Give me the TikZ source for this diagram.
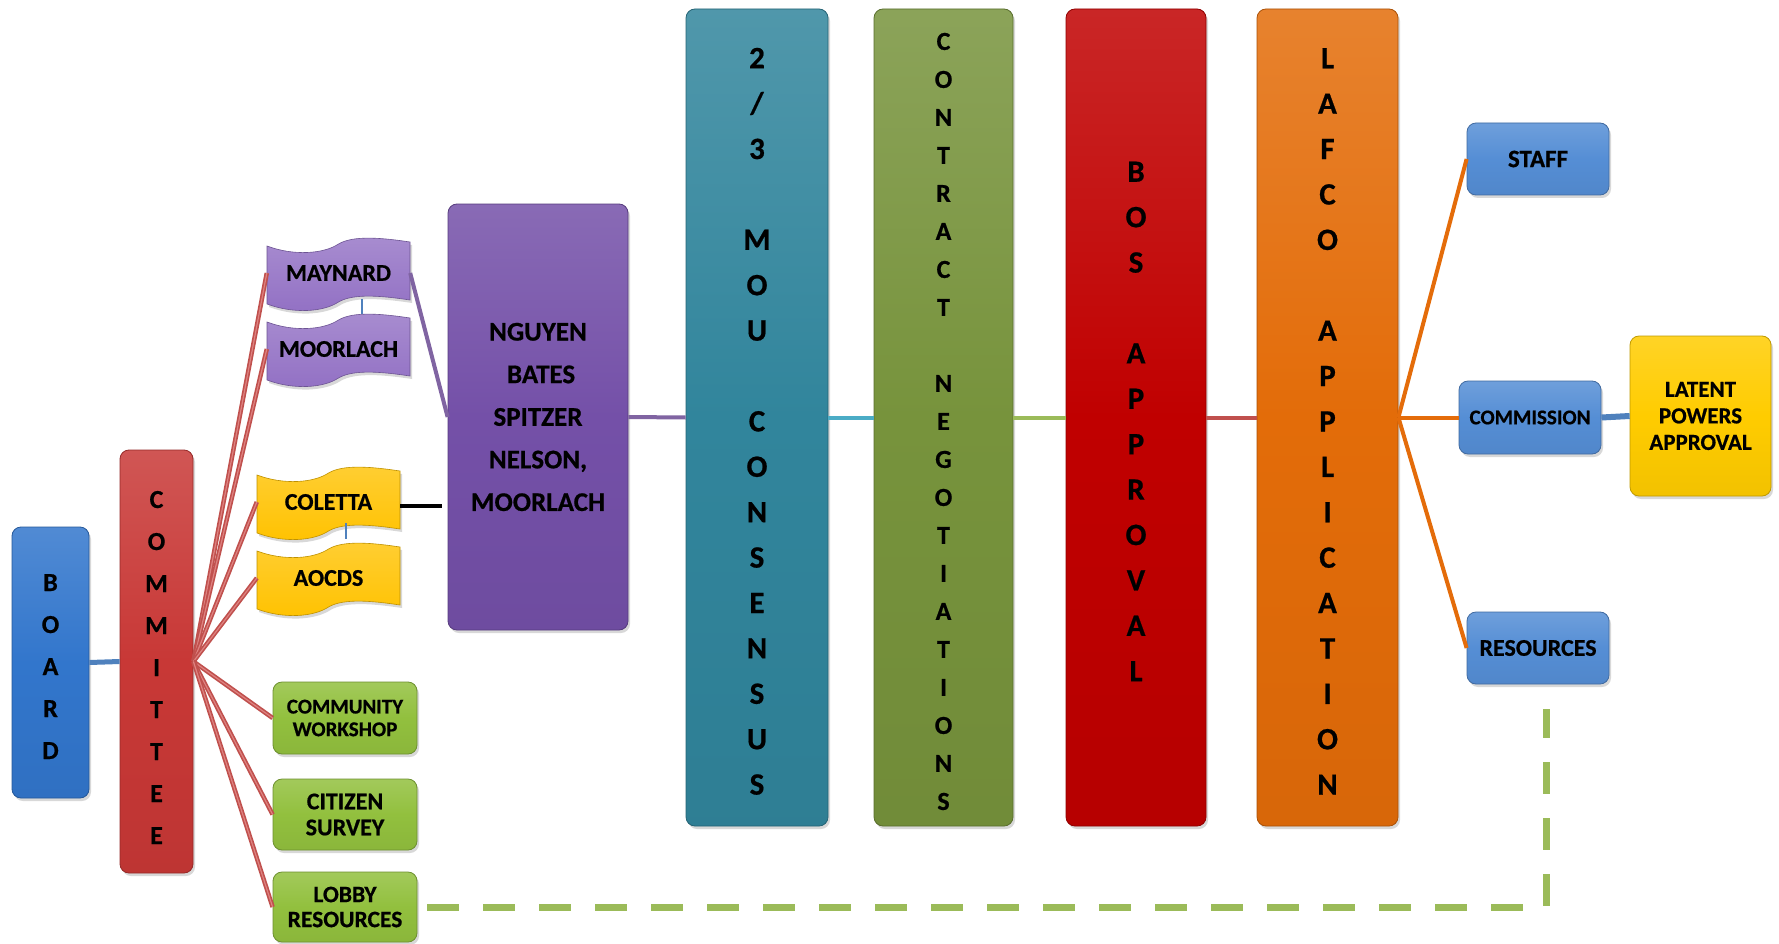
\documentclass[tikz,border=0pt]{standalone}
\usepackage{fontspec}
\setmainfont{Carlito}[BoldFeatures={FakeBold=0.6}]
\usetikzlibrary{shadows,calc}
\definecolor{cBoard}{RGB}{50,118,204}
\definecolor{cComm}{RGB}{200,56,54}
\definecolor{cFlagP}{RGB}{146,112,196}
\definecolor{cNguyen}{RGB}{116,80,168}
\definecolor{cFlagY}{RGB}{255,194,0}
\definecolor{cGreenBox}{RGB}{146,192,62}
\definecolor{cMou}{RGB}{49,133,156}
\definecolor{cContract}{RGB}{119,147,60}
\definecolor{cBos}{RGB}{192,0,0}
\definecolor{cLafco}{RGB}{227,108,9}
\definecolor{cBlueBox}{RGB}{85,142,213}
\definecolor{cLatent}{RGB}{255,204,0}
\definecolor{lBlue}{RGB}{79,129,189}
\definecolor{lRed}{RGB}{192,80,77}
\definecolor{lRedL}{RGB}{222,130,128}
\definecolor{lPurple}{RGB}{128,100,162}
\definecolor{lTeal}{RGB}{75,172,198}
\definecolor{lGreen}{RGB}{155,187,89}
\definecolor{lOrange}{RGB}{228,108,10}
\tikzset{
  box/.style={rounded corners=9pt, draw=#1!75!black, line width=0.8pt,
    top color=#1!85!white, bottom color=#1!95!black, middle color=#1,
    drop shadow={opacity=0.3, shadow xshift=2pt, shadow yshift=-3pt},
    inner sep=0pt, align=center, text=black},
  flagbody/.style={draw=#1!75!black, line width=0.6pt,
    top color=#1!80!white, bottom color=#1,
    drop shadow={opacity=0.3, shadow xshift=2pt, shadow yshift=-3pt}},
  flagtxt/.style={inner sep=0pt, align=center, font=\fontsize{24}{26}\selectfont\bfseries},
  fanline/.style={draw=lRed, line width=4.5pt, postaction={draw=lRedL, line width=1.2pt}},
  purpleline/.style={draw=lPurple, line width=4pt},
  orangeline/.style={draw=lOrange, line width=4pt},
  tinyblue/.style={draw=lBlue, line width=1.5pt},
  lobbydash/.style={draw=lGreen, line width=7pt, dash pattern=on 32pt off 24pt},
}
\newcommand\toppad[1]{\rule{0pt}{#1}}
\newcommand\wflag[5]{%
  \path[flagbody=#4, shift={(#2,#3)}] (-71.5,-27) .. controls (-45,-17) and (-15,-19) .. (0,-29)
    .. controls (15,-38) and (45,-35) .. (71.5,-31) -- (71.5,27)
    .. controls (45,23) and (15,20) .. (0,29)
    .. controls (-15,39) and (-45,41) .. (-71.5,31) -- cycle;
  \node[flagtxt, minimum width=143pt, minimum height=58pt] (#1) at (#2,#3) {#5};
}
\begin{document}
\begin{tikzpicture}[x=1pt,y=-1pt]
\useasboundingbox[fill=white] (0,0) rectangle (1779,944);

% left column
\node[box=cBoard, minimum width=77pt, minimum height=271pt,
  font=\fontsize{26}{42}\selectfont\bfseries] (board) at (50.5,662.5) {\toppad{25pt}B\\O\\A\\R\\D};
\node[box=cComm, minimum width=73pt, minimum height=423pt,
  font=\fontsize{26}{42}\selectfont\bfseries] (committee) at (156.5,661.5) {\toppad{29pt}C\\O\\M\\M\\I\\T\\T\\E\\E};

% flags
\wflag{maynard}{338.5}{273}{cFlagP}{MAYNARD}
\wflag{moorlach}{338.5}{349}{cFlagP}{MOORLACH}
\wflag{coletta}{328.5}{502}{cFlagY}{COLETTA}
\wflag{aocds}{328.5}{578}{cFlagY}{AOCDS}

% green boxes
\node[box=cGreenBox, minimum width=144pt, minimum height=72pt,
  font=\fontsize{21}{22.7}\selectfont\bfseries] (community) at (345,718) {COMMUNITY\\WORKSHOP};
\node[box=cGreenBox, minimum width=144pt, minimum height=71pt,
  font=\fontsize{24}{26}\selectfont\bfseries] (citizen) at (345,814.5) {CITIZEN\\SURVEY};
\node[box=cGreenBox, minimum width=144pt, minimum height=70pt,
  font=\fontsize{23.5}{25}\selectfont\bfseries] (lobby) at (345,907) {LOBBY\\RESOURCES};

% nguyen
\node[box=cNguyen, minimum width=180pt, minimum height=426pt,
  font=\fontsize{27}{42.6}\selectfont\bfseries] (nguyen) at (538,417)
  {NGUYEN\\\ BATES\\SPITZER\\NELSON,\\MOORLACH};

% tall bars
\node[box=cMou, minimum width=142pt, minimum height=817pt,
  font=\fontsize{31}{45.4}\selectfont\bfseries] (mou) at (757,417.5)
  {\toppad{28pt}2\\/\\3\\~\\M\\O\\U\\~\\C\\O\\N\\S\\E\\N\\S\\U\\S};
\node[box=cContract, minimum width=139pt, minimum height=817pt,
  font=\fontsize{26}{38}\selectfont\bfseries] (contract) at (943.5,417.5)
  {\toppad{25pt}C\\O\\N\\T\\R\\A\\C\\T\\~\\N\\E\\G\\O\\T\\I\\A\\T\\I\\O\\N\\S};
\node[box=cBos, minimum width=140pt, minimum height=817pt,
  font=\fontsize{31}{45.4}\selectfont\bfseries] (bos) at (1136,417.5)
  {\toppad{28pt}B\\O\\S\\~\\A\\P\\P\\R\\O\\V\\A\\L};
\node[box=cLafco, minimum width=141pt, minimum height=817pt,
  font=\fontsize{31}{45.4}\selectfont\bfseries] (lafco) at (1327.5,417.5)
  {\toppad{28pt}L\\A\\F\\C\\O\\~\\A\\P\\P\\L\\I\\C\\A\\T\\I\\O\\N};

% right boxes
\node[box=cBlueBox, minimum width=142pt, minimum height=72pt,
  font=\fontsize{25}{27}\selectfont\bfseries] (staff) at (1538,159) {STAFF};
\node[box=cBlueBox, minimum width=142pt, minimum height=73pt,
  font=\fontsize{21}{23}\selectfont\bfseries] (commission) at (1530,417.5) {COMMISSION};
\node[box=cBlueBox, minimum width=142pt, minimum height=72pt,
  font=\fontsize{24}{26}\selectfont\bfseries] (resources) at (1538,648) {RESOURCES};
\node[box=cLatent, minimum width=141pt, minimum height=160pt,
  font=\fontsize{23}{26.5}\selectfont\bfseries] (latent) at (1700.5,416) {LATENT\\POWERS\\APPROVAL};

% connectors
\draw[draw=lBlue, line width=5pt] (board.east) -- (committee.west);
\foreach \t in {maynard,moorlach,coletta,aocds,community,citizen,lobby}
  \draw[fanline] (committee.east) -- (\t.west);
\draw[tinyblue] ([xshift=23.5pt,yshift=3pt]maynard.south) -- ([xshift=23.5pt,yshift=6pt]moorlach.north);
\draw[tinyblue] ([xshift=17.5pt,yshift=8pt]coletta.south) -- ([xshift=17.5pt,yshift=10pt]aocds.north);
\draw[purpleline] (maynard.east) -- (nguyen.west);
\draw[draw=black, line width=4pt] ([yshift=-4pt]coletta.east) -- ([yshift=-4pt,xshift=-6pt]coletta.east -| nguyen.west);
\draw[purpleline] (nguyen.east) -- (mou.west);
\draw[draw=lTeal, line width=4pt] (mou.east) -- (contract.west);
\draw[draw=lGreen, line width=4pt] (contract.east) -- (bos.west);
\draw[draw=lRed, line width=4pt] (bos.east) -- (lafco.west);
\foreach \t in {staff,commission,resources}
  \draw[orangeline] (lafco.east) -- (\t.west);
\draw[draw=lBlue, line width=6pt] (commission.east) -- (latent.west);
\coordinate (dcorner) at (1546,907);
\draw[lobbydash] ([xshift=10pt]lobby.east) -- (lobby.east -| dcorner) -- ([yshift=-25pt]resources.south -| dcorner);
\end{tikzpicture}
\end{document}
